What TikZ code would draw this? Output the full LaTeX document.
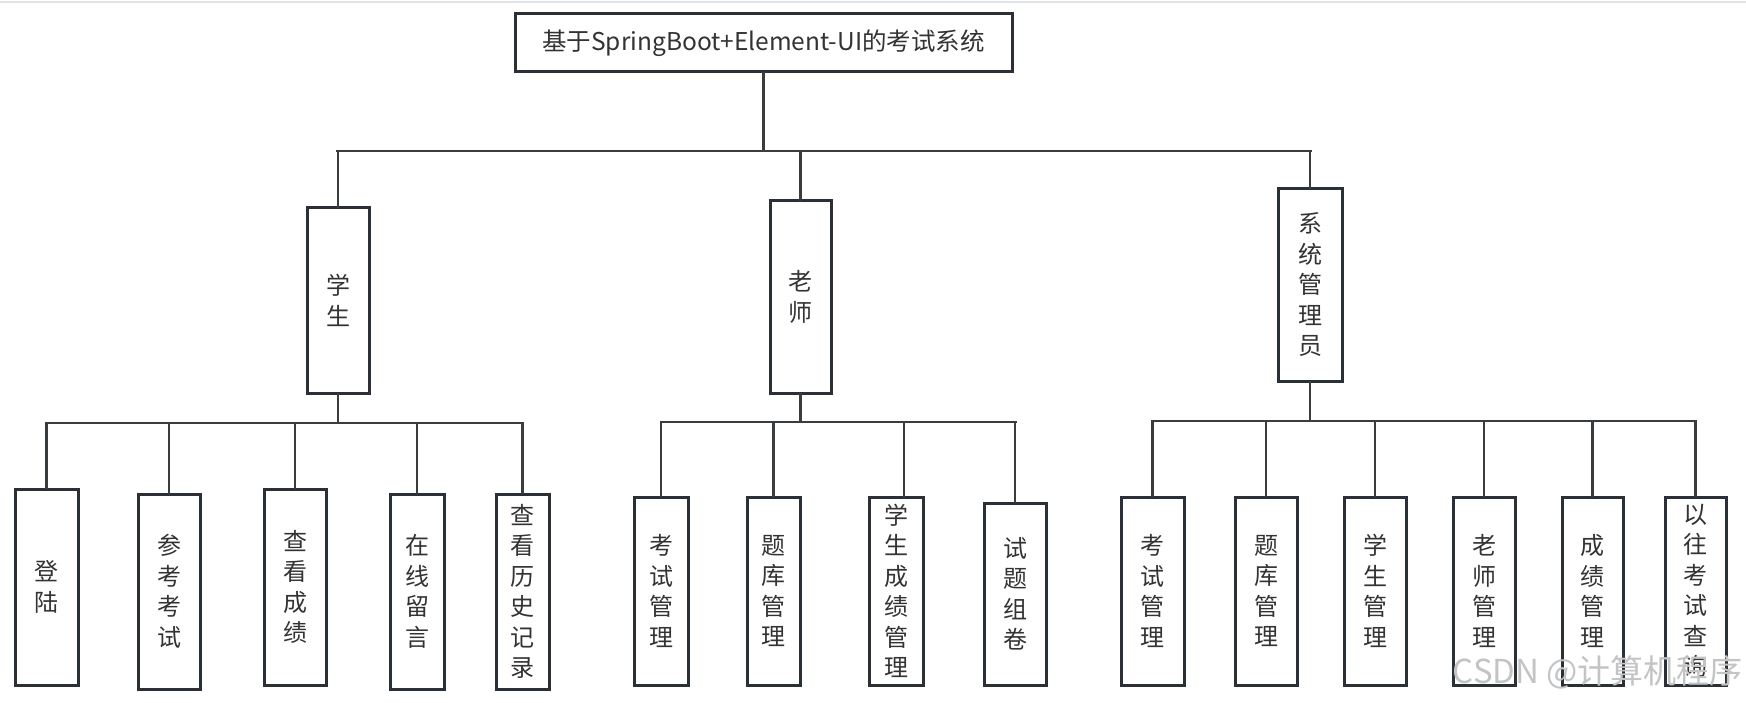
\documentclass[tikz,border=0pt]{standalone}
\usepackage{fontspec}
\setmainfont{Noto Sans CJK SC}
\definecolor{boxc}{HTML}{2B3036}
\definecolor{linec}{HTML}{3A3D40}
\definecolor{txt}{HTML}{333333}
\definecolor{wm}{HTML}{C4C4C4}
\definecolor{topgray}{HTML}{DFE2E6}
\newcommand\mybox[6]{%
  \node[box, minimum width={(#4-#2)*1pt}, minimum height={(#5-#3)*1pt}] (#1) at ({(#2+#4)/2},{(#3+#5)/2}) {#6};}
\begin{document}
\begin{tikzpicture}[x=1pt,y=-1pt,
  box/.style={draw=boxc, line width=3pt, fill=white, inner sep=0pt, align=center, text=txt, font=\fontsize{24}{30.5}\selectfont},
  conn/.style={draw=linec, line width=2.6pt, line cap=rect}]
\useasboundingbox (0,0) rectangle (1746,703);
\fill[white] (0,0) rectangle (1746,703);
\coordinate (tgL) at (0,2);
\coordinate (tgR) at (1746,2);
\draw[topgray, line width=1.5pt] (tgL) -- (tgR);

% title
\mybox{title}{515}{14}{1012}{72}{\fontsize{24.5}{30}\selectfont 基于SpringBoot+Element-UI的考试系统}
% level 1
\mybox{stu}{307}{208}{369}{393}{学\\生}
\mybox{tea}{770}{201}{831}{393}{老\\师}
\mybox{adm}{1278}{189}{1342}{381}{系\\统\\管\\理\\员}
% students
\mybox{s1}{15}{489}{78}{685}{登\\陆}
\mybox{s2}{138}{494}{200}{689}{参\\考\\考\\试}
\mybox{s3}{264}{489}{326}{685}{查\\看\\成\\绩}
\mybox{s4}{390}{494}{444}{689}{在\\线\\留\\言}
\mybox{s5}{496}{494}{549}{689}{查\\看\\历\\史\\记\\录}
% teacher
\mybox{t1}{634}{497}{688}{685}{考\\试\\管\\理}
\mybox{t2}{747}{497}{800}{685}{题\\库\\管\\理}
\mybox{t3}{869}{497}{923}{685}{学\\生\\成\\绩\\管\\理}
\mybox{t4}{984}{503}{1046}{685}{试\\题\\组\\卷}
% admin
\mybox{a1}{1121}{497}{1184}{685}{考\\试\\管\\理}
\mybox{a2}{1235}{497}{1297}{685}{题\\库\\管\\理}
\mybox{a3}{1344}{497}{1406}{685}{学\\生\\管\\理}
\mybox{a4}{1453}{497}{1515}{685}{老\\师\\管\\理}
\mybox{a5}{1562}{497}{1623}{685}{成\\绩\\管\\理}
\mybox{a6}{1665}{497}{1726}{685}{以\\往\\考\\试\\查\\询}

% top bus
\coordinate (busL) at (337,151);
\coordinate (busR) at (1311,151);
\draw[conn] (busL) -- (busR);
\draw[conn] (title.south) -- (title.south |- busL);
\draw[conn] (stu.north) -- (stu.north |- busL);
\draw[conn] (tea.north) -- (tea.north |- busL);
\draw[conn] (adm.north) -- (adm.north |- busL);

% student bus
\coordinate (sbL) at (47,423);
\coordinate (sbR) at (522,423);
\draw[conn] (sbL) -- (sbR);
\draw[conn] (stu.south) -- (stu.south |- sbL);
\foreach \n in {s1,s2,s3,s4,s5}{\draw[conn] (\n.north) -- (\n.north |- sbL);}

% teacher bus
\coordinate (tbL) at (661,422);
\coordinate (tbR) at (1016,422);
\coordinate (t3top) at (904,497);
\draw[conn] (tbL) -- (tbR);
\draw[conn] (tea.south) -- (tea.south |- tbL);
\foreach \n in {t1,t2,t4}{\draw[conn] (\n.north) -- (\n.north |- tbL);}
\draw[conn] (t3top) -- (t3top |- tbL);

% admin bus
\coordinate (abL) at (1153,421);
\coordinate (abR) at (1695,421);
\draw[conn] (abL) -- (abR);
\draw[conn] (adm.south) -- (adm.south |- abL);
\foreach \n in {a1,a2,a3,a4,a5,a6}{\draw[conn] (\n.north) -- (\n.north |- abL);}

% watermark
\node[text=wm, font=\fontsize{33}{33}\selectfont, anchor=east, inner sep=0pt] (wmark) at (1743,672) {CSDN @计算机程序};
\end{tikzpicture}
\end{document}
